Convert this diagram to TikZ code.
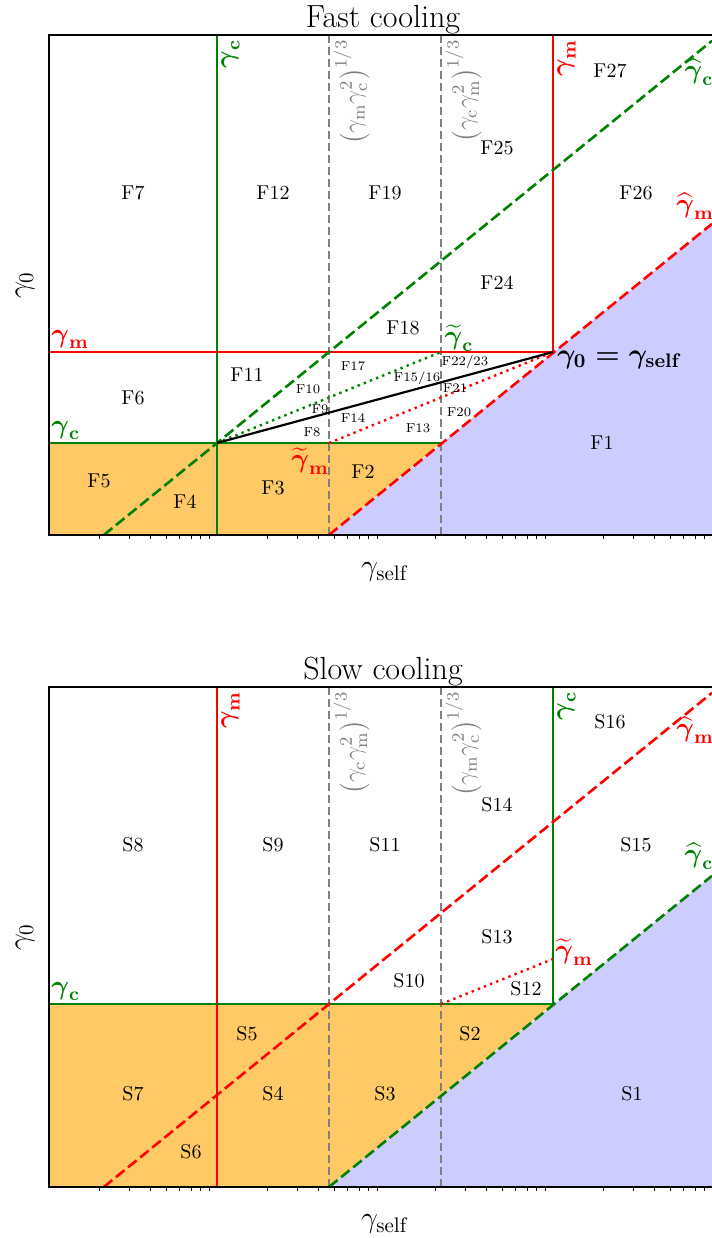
\documentclass[tikz,border=0pt]{standalone}
\usepackage{fix-cm}
\usepackage{amsmath, amssymb}
\usepackage{tikz}
\usetikzlibrary{positioning}
\definecolor{mplGreen}{RGB}{0,128,0}
\definecolor{mplOrange}{RGB}{255,201,102}
\definecolor{mplLav}{RGB}{204,204,255}
\definecolor{mplGrey}{RGB}{128,128,128}
\newcommand{\bgam}{\boldsymbol{\gamma}}
\tikzset{
  frameL/.style={draw=black, line width=0.8pt},
  tickL/.style={draw=black, line width=0.45pt},
  regL/.style={font=\fontsize{10}{12}\selectfont, inner sep=0pt},
  regS/.style={font=\fontsize{6.5}{8}\selectfont, inner sep=0pt},
  titleL/.style={font=\fontsize{16}{19}\selectfont, anchor=base, inner sep=0pt},
  axisL/.style={font=\fontsize{15}{18}\selectfont, inner sep=0pt},
  lineLbl/.style={font=\fontsize{13.5}{16}\selectfont, inner sep=0pt},
  upLbl/.style={font=\fontsize{13.5}{16}\selectfont, rotate=90,
                anchor=north east, inner sep=1pt},
  greyLbl/.style={font=\fontsize{12.5}{14}\selectfont, text=mplGrey, rotate=90,
                  anchor=north east, inner sep=1pt},
  gLine/.style={draw=mplGreen, line width=1.1pt},
  rLine/.style={draw=red, line width=1.1pt},
  kLine/.style={draw=black, line width=1.1pt},
  gDash/.style={draw=mplGreen, line width=1.3pt, dash pattern=on 5.5pt off 2.3pt},
  rDash/.style={draw=red, line width=1.3pt, dash pattern=on 5.5pt off 2.3pt},
  greyDash/.style={draw=mplGrey, line width=1pt, dash pattern=on 4pt off 2pt},
  gDot/.style={draw=mplGreen, line width=1.2pt, dash pattern=on 1.2pt off 2.1pt},
  rDot/.style={draw=red, line width=1.2pt, dash pattern=on 1.2pt off 2.1pt},
  orangeR/.style={fill=mplOrange},
  lavR/.style={fill=mplLav},
}

\begin{document}
\begin{tikzpicture}[x=0.5pt, y=-0.5pt]
  \useasboundingbox (0,0) rectangle (712,1238);

  %% ---------------- Fast cooling ----------------
  \begin{scope}
    \coordinate (fC) at (217,443);
    \coordinate (fA) at (329,443);
    \coordinate (fB) at (441,352);
    \coordinate (fM) at (553,352);
    %% Shaded regions
    \fill[orangeR] (49,443) -- (441,443) -- (329,535) -- (49,535) -- cycle;
    \fill[lavR] (329,535) -- (712,223.8) -- (712,535) -- cycle;
    %% Break lines
    \foreach \xx in {329,441}{
      \draw[greyDash] (\xx,35) -- (\xx,535);
    }
    \draw[gLine] (217,35) -- (217,535);
    \draw[gLine] (49,443) -- (441,443);
    \draw[rLine] (49,352) -- (fM) -- (553,35);
    \draw[gDash] (103.8,535) -- (712,40.8);
    \draw[rDash] (329,535) -- (712,223.8);
    \draw[gDot] (fC) -- (fB);
    \draw[rDot] (fA) -- (fM);
    \draw[kLine] (fC) -- (fM);
    %% Line labels
    \node[upLbl, text=mplGreen] (fgc) at (219,37) {$\bgam_{\mathbf{c}}$};
    \node[upLbl, text=red] (fgm) at (555,37) {$\bgam_{\mathbf{m}}$};
    \node[greyLbl] (fg1) at (331,37) {$\left(\gamma_{\mathrm{m}}\gamma_{\mathrm{c}}^{2}\right)^{1/3}$};
    \node[greyLbl] (fg2) at (443,37) {$\left(\gamma_{\mathrm{c}}\gamma_{\mathrm{m}}^{2}\right)^{1/3}$};
    \node[lineLbl, text=red, anchor=south west] (fhm) at (51,349) {$\bgam_{\mathbf{m}}$};
    \node[lineLbl, text=mplGreen, anchor=south west] (fhc) at (51,440) {$\bgam_{\mathbf{c}}$};
    \node[lineLbl, text=mplGreen] (ftc) at (459,338) {$\widetilde{\bgam}_{\mathbf{c}}$};
    \node[lineLbl, text=red] (ftm) at (310,461) {$\widetilde{\bgam}_{\mathbf{m}}$};
    \node[lineLbl, text=mplGreen] (fwc) at (699,72) {$\widehat{\bgam}_{\mathbf{c}}$};
    \node[lineLbl, text=red] (fwm) at (695,206) {$\widehat{\bgam}_{\mathbf{m}}$};
    \node[lineLbl, anchor=west, font=\fontsize{14}{16}\selectfont\boldmath] (fself) at (557,360)
      {$\gamma_0=\gamma_{\mathbf{self}}$};
    %% Regions
    \foreach \nm/\px/\py in {F7/133/193, F12/273/193, F19/385/193, F25/497/148,
                             F27/610/71, F26/636/193, F24/497/283, F18/403/328,
                             F6/133/398, F11/247/375, F5/99/481, F4/185/502,
                             F3/273/488, F2/363/472, F1/602/443}{
      \node[regL] (\nm) at (\px,\py) {\nm};
    }
    \foreach \nm/\px/\py in {F17/353/366, F10/308/389, F21/455/388, F9/320/409,
                             F14/353/418, F20/459/412, F8/312/432, F13/418/428}{
      \node[regS] (\nm) at (\px,\py) {\nm};
    }
    \node[regS] (F22) at (465,362) {F22/23};
    \node[regS] (F15) at (417,378) {F15/16};
  \end{scope}

  %% ---------------- Slow cooling ----------------
  \begin{scope}[shift={(0,652)}]
    \coordinate (sA) at (441,352);
    \coordinate (sB) at (553,307);
    %% Shaded regions
    \fill[orangeR] (49,352) -- (553,352) -- (329,535) -- (49,535) -- cycle;
    \fill[lavR] (329,535) -- (712,223.8) -- (712,535) -- cycle;
    %% Break lines
    \foreach \xx in {329,441}{
      \draw[greyDash] (\xx,35) -- (\xx,535);
    }
    \draw[rLine] (217,35) -- (217,535);
    \draw[gLine] (49,352) -- (553,352) -- (553,35);
    \draw[rDash] (103.8,535) -- (712,40.8);
    \draw[gDash] (329,535) -- (712,223.8);
    \draw[rDot] (sA) -- (sB);
    %% Line labels
    \node[upLbl, text=red] (sgm) at (219,37) {$\bgam_{\mathbf{m}}$};
    \node[upLbl, text=mplGreen] (sgc) at (555,37) {$\bgam_{\mathbf{c}}$};
    \node[greyLbl] (sg1) at (331,37) {$\left(\gamma_{\mathrm{c}}\gamma_{\mathrm{m}}^{2}\right)^{1/3}$};
    \node[greyLbl] (sg2) at (443,37) {$\left(\gamma_{\mathrm{m}}\gamma_{\mathrm{c}}^{2}\right)^{1/3}$};
    \node[lineLbl, text=mplGreen, anchor=south west] (shc) at (51,349) {$\bgam_{\mathbf{c}}$};
    \node[lineLbl, text=red] (stm) at (574,300) {$\widetilde{\bgam}_{\mathbf{m}}$};
    \node[lineLbl, text=red] (swm) at (695,78) {$\widehat{\bgam}_{\mathbf{m}}$};
    \node[lineLbl, text=mplGreen] (swc) at (699,204) {$\widehat{\bgam}_{\mathbf{c}}$};
    %% Regions
    \foreach \nm/\px/\py in {S8/133/193, S9/273/193, S11/385/193, S14/497/153,
                             S16/610/70, S15/636/193, S13/497/285, S10/409/329,
                             S12/526/337, S5/247/382, S2/470/382, S7/133/442,
                             S4/273/442, S3/385/442, S1/632/442, S6/191/500}{
      \node[regL] (\nm) at (\px,\py) {\nm};
    }
  \end{scope}

  %% ---------------- Axes of both panels ----------------
  \foreach \dy/\ttl in {0/Fast cooling, 652/Slow cooling}{
    \begin{scope}[shift={(0,\dy)}]
      \draw[frameL] (712,35) -- (49,35) -- (49,535) -- (712,535);
      \foreach \dec in {49,217,385,553}{
        \foreach \k in {2,...,9}{
          \draw[tickL] ({\dec+168*log10(\k)},535) -- ++(0,3.5);
        }
      }
      \node[titleL] (title\dy) at (383,27) {\ttl};
      \node[axisL] (xlab\dy) at (385,572) {$\gamma_{\mathrm{self}}$};
      \node[axisL, rotate=90] (ylab\dy) at (25,285) {$\gamma_0$};
    \end{scope}
  }
\end{tikzpicture}
\end{document}
